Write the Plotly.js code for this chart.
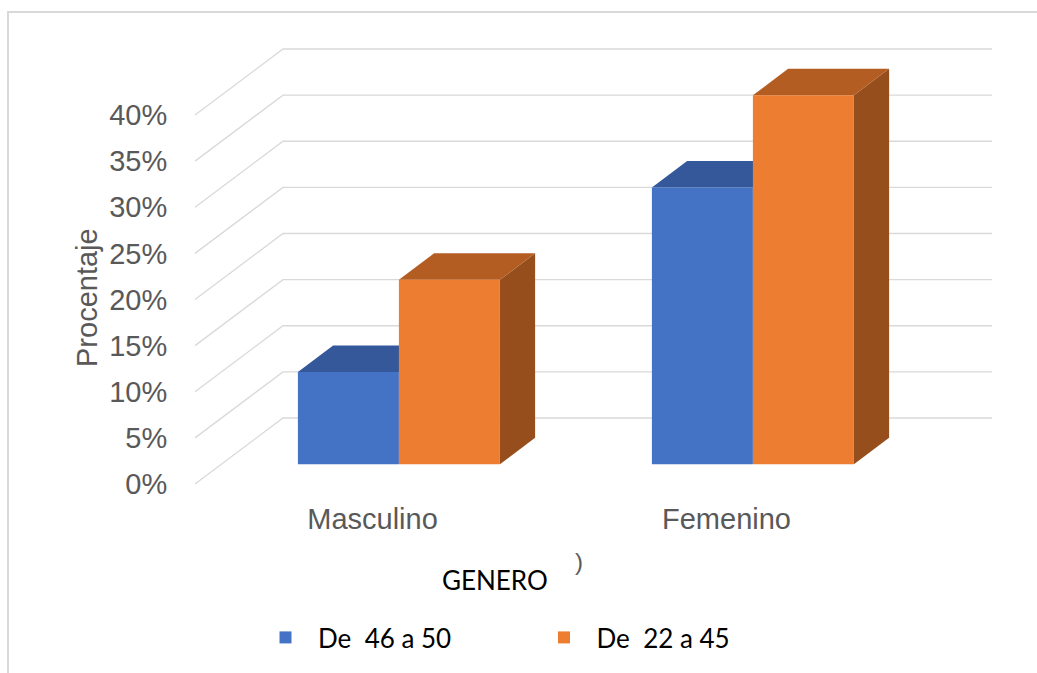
<!DOCTYPE html>
<html>
<head>
<meta charset="utf-8">
<script src="https://cdn.plot.ly/plotly-3.0.1.min.js"></script>
<style>
  html, body { margin: 0; padding: 0; background: #ffffff; }
  #chart { width: 1037px; height: 673px; }
</style>
</head>
<body>
<div id="chart"></div>
<script>
// Age groups by gender, share of respondents
const categories = ['Masculino', 'Femenino'];
const seriesNames = ['De\u00a0 46 a 50', 'De\u00a0 22 a 45'];
const age46to50 = [0.10, 0.30];
const age22to45 = [0.20, 0.40];
const tickValues = [0, 0.05, 0.10, 0.15, 0.20, 0.25, 0.30, 0.35, 0.40];

// Face colours: front, top, side
const palette = [
  { front: '#4472C4', top: '#35589A', side: '#2F5597' },
  { front: '#ED7D31', top: '#B45D22', side: '#974E1D' }
];

// Page geometry (pixels)
const FIG = { w: 1037, h: 673 };
const PLOT = { l: 185, r: 1000, t: 30, b: 490 };
const ORIGIN = { x: 372.5, y: 484 };     // front edge: category 0, value 0
const UNIT = { x: 354, y: 922.5 };       // px per category step / per 100 %
const DEPTH_PX = { x: 88, y: 66 };       // floor depth as drawn on screen
const BAR_DEPTH = [0.3, 0.7];            // bar slab inside the floor depth
const GRID_X = [195, 992];               // floor start / back-wall end

const DX = DEPTH_PX.x / UNIT.x;
const DY = DEPTH_PX.y / UNIT.y;
const xFront = [(PLOT.l - ORIGIN.x) / UNIT.x, (PLOT.r - ORIGIN.x) / UNIT.x];
const yFront = [(ORIGIN.y - PLOT.b) / UNIT.y, (ORIGIN.y - PLOT.t) / UNIT.y];
const xBars = xFront.map(v => v - BAR_DEPTH[0] * DX);
const yBars = yFront.map(v => v - BAR_DEPTH[0] * DY);

const paperX = px => (px - PLOT.l) / (PLOT.r - PLOT.l);
const paperY = py => (PLOT.b - py) / (PLOT.b - PLOT.t);

const barGap = 1 - 2 * 101 / UNIT.x;
const barW = (1 - barGap) / 2;
const catIdx = categories.map((c, i) => i);
const series = [age46to50, age22to45];

const axisFont = { family: 'Liberation Sans, Arial, sans-serif', size: 29, color: '#595959' };
const textFont = { family: 'Lato, sans-serif', size: 26, color: '#000000' };
const gridStyle = { color: '#D9D9D9', width: 1.3 };

// Grid: slanted floor/side lines plus the back-wall lines
const shapes = [];
const gx0 = (GRID_X[0] - ORIGIN.x) / UNIT.x;
const gx1 = (GRID_X[1] - ORIGIN.x) / UNIT.x;
tickValues.forEach(t => {
  shapes.push({
    type: 'path', xref: 'x2', yref: 'y2', layer: 'below',
    path: `M${gx0},${t} L${gx0 + DX},${t + DY} L${gx1},${t + DY}`,
    line: gridStyle
  });
});

// Top and side faces of each bar, from the bar values
const bdx = (BAR_DEPTH[1] - BAR_DEPTH[0]) * DX;
const bdy = (BAR_DEPTH[1] - BAR_DEPTH[0]) * DY;
series.forEach((vals, s) => {
  vals.forEach((v, i) => {
    const x0 = i - barW + s * barW;
    const x1 = x0 + barW;
    shapes.push({
      type: 'path', xref: 'x', yref: 'y', layer: 'below',
      path: `M${x1},0 L${x1},${v} L${x1 + bdx},${v + bdy} L${x1 + bdx},${bdy} Z`,
      fillcolor: palette[s].side, line: { width: 0 }
    });
    shapes.push({
      type: 'path', xref: 'x', yref: 'y', layer: 'below',
      path: `M${x0},${v} L${x1},${v} L${x1 + bdx},${v + bdy} L${x0 + bdx},${v + bdy} Z`,
      fillcolor: palette[s].top, line: { width: 0 }
    });
  });
});

// Chart frame
shapes.push({
  type: 'rect', xref: 'paper', yref: 'paper', layer: 'below',
  x0: paperX(8), x1: paperX(1060), y0: paperY(12), y1: paperY(700),
  line: { color: '#D9D9D9', width: 2 }, fillcolor: 'rgba(0,0,0,0)'
});

const traces = series.map((vals, s) => ({
  type: 'bar',
  name: seriesNames[s],
  x: catIdx,
  y: vals,
  xaxis: 'x', yaxis: 'y',
  marker: { color: palette[s].front, line: { width: 0 } },
  hovertemplate: '%{y:.0%}<extra>' + seriesNames[s] + '</extra>'
}));
traces.push({
  type: 'scatter', x: [], y: [], xaxis: 'x2', yaxis: 'y2',
  showlegend: false, hoverinfo: 'skip'
});

const layout = {
  width: FIG.w, height: FIG.h,
  margin: { l: PLOT.l, r: FIG.w - PLOT.r, t: PLOT.t, b: FIG.h - PLOT.b, pad: 0 },
  paper_bgcolor: '#ffffff', plot_bgcolor: 'rgba(0,0,0,0)',
  barmode: 'group', bargap: barGap, bargroupgap: 0,
  showlegend: true,
  legend: {
    orientation: 'h', x: paperX(253), xanchor: 'left',
    y: paperY(637.5), yanchor: 'middle',
    font: textFont, itemwidth: 55, entrywidth: 208.5, entrywidthmode: 'pixels',
    traceorder: 'normal', bgcolor: 'rgba(0,0,0,0)'
  },
  xaxis: {
    type: 'linear', range: xBars, showgrid: false, zeroline: false,
    showline: false, showticklabels: false, ticks: '', fixedrange: true
  },
  yaxis: {
    type: 'linear', range: yBars, showgrid: false, zeroline: false,
    showline: false, showticklabels: false, ticks: '', fixedrange: true
  },
  xaxis2: {
    type: 'linear', overlaying: 'x', side: 'bottom', anchor: 'y2',
    range: xFront, tickvals: catIdx, ticktext: categories,
    ticks: 'outside', ticklen: 3, tickcolor: 'rgba(0,0,0,0)',
    showgrid: false, zeroline: false, showline: false,
    tickfont: axisFont, fixedrange: true
  },
  yaxis2: {
    type: 'linear', overlaying: 'y', side: 'left', anchor: 'x2',
    range: yFront, tickvals: tickValues, tickformat: '.0%',
    ticks: 'outside', ticklen: 11, tickcolor: 'rgba(0,0,0,0)',
    showgrid: false, zeroline: false, showline: false,
    tickfont: axisFont, fixedrange: true
  },
  shapes: shapes,
  annotations: [
    {
      text: 'Procentaje', textangle: -90, showarrow: false,
      xref: 'paper', yref: 'paper', x: paperX(87), y: paperY(298),
      xanchor: 'center', yanchor: 'middle', font: axisFont
    },
    {
      text: 'GENERO', showarrow: false,
      xref: 'paper', yref: 'paper', x: paperX(495), y: paperY(580),
      xanchor: 'center', yanchor: 'middle', font: textFont
    },
    {
      text: ')', showarrow: false,
      xref: 'paper', yref: 'paper', x: paperX(579), y: paperY(561),
      xanchor: 'center', yanchor: 'middle',
      font: { family: 'Liberation Sans, Arial, sans-serif', size: 24, color: '#595959' }
    }
  ]
};

Plotly.newPlot('chart', traces, layout, { displayModeBar: false, staticPlot: true });
</script>
</body>
</html>
